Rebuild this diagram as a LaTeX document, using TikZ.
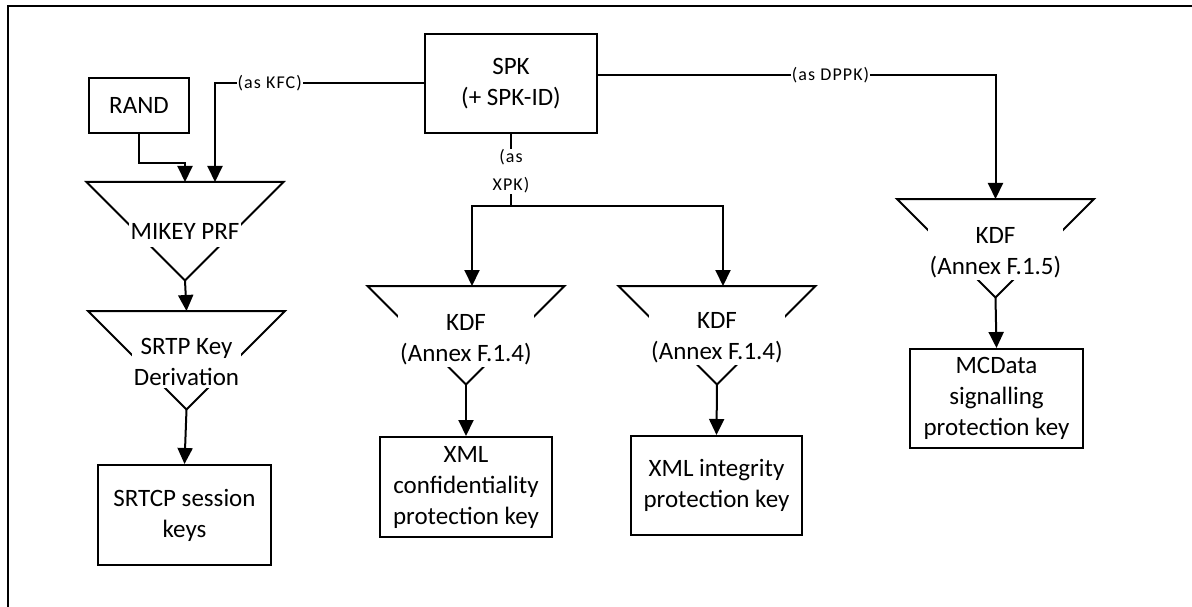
\documentclass[tikz,border=0pt]{standalone}
\usepackage{fontspec}
\setmainfont{Carlito}
\newfontfamily\lblfont[LetterSpace=6]{Carlito}
\usetikzlibrary{arrows.meta}
\begin{document}
\begin{tikzpicture}[x=1pt,y=-1pt,line width=2pt,
  box/.style={draw, rectangle, align=center, inner sep=0pt, font=\fontsize{25}{31}\selectfont},
  ftext/.style={fill=white, align=center, inner xsep=2pt, inner ysep=3pt, font=\fontsize{25}{31}\selectfont},
  lbl/.style={fill=white, inner xsep=1pt, inner ysep=1pt, align=center, font=\lblfont\fontsize{18}{28}\selectfont},
  arr/.style={-{Triangle[length=16pt,width=15pt]}},
  funnel/.pic={\draw (-98.5,0) -- (98.5,0) -- (0,98.5) -- cycle;
    \coordinate (-top) at (0,0); \coordinate (-apex) at (0,98.5);}
]
\useasboundingbox (0,0) rectangle (1192,607);
\draw[line width=2pt] (8,607) -- (8,6) -- (1192,6);

% boxes
\node[box, minimum width=100, minimum height=55] (rand) at (139,105.5) {RAND};
\node[box, minimum width=172, minimum height=99] (spk) at (511,83.5) {SPK\\(+ SPK-ID)};
\node[box, minimum width=173, minimum height=100] (srtcp) at (184.5,515) {SRTCP session\\keys};
\node[box, minimum width=172, minimum height=100] (xmlc) at (466,487) {XML\\confidentiality\\protection key};
\node[box, minimum width=171, minimum height=99] (xmli) at (716.5,485.5) {XML integrity\\protection key};
\node[box, minimum width=173, minimum height=99] (mcd) at (996.5,398.5) {MCData\\signalling\\protection key};

% funnels
\pic (mk) at (185,182) {funnel};
\pic (sr) at (186.5,311) {funnel};
\pic (kone) at (466,286) {funnel};
\pic (ktwo) at (717,286) {funnel};
\pic (kthree) at (995.5,199) {funnel};

\node[ftext, anchor=base, text depth=5pt] (mktext) at (185,239) {MIKEY PRF};
\node[ftext, anchor=base] (srtext) at (186.5,385) {SRTP Key\\Derivation};
\node[ftext, anchor=base] (konetext) at (466,361) {KDF\\(Annex F.1.4)};
\node[ftext, anchor=base] (ktwotext) at (717,359) {KDF\\(Annex F.1.4)};
\node[ftext, anchor=base] (kthreetext) at (995.5,274) {KDF\\(Annex F.1.5)};

% connectors
\coordinate (kfc) at (215,83.5);
\coordinate (dppk) at (995.5,75);
\coordinate (xpk) at (511,206);

\draw[arr] (rand.south) -- ++(0,29) -| (mk-top);
\draw[arr] (spk.west) -- node[lbl, pos=0.738] {(as KFC)} (kfc) -- (kfc |- mk-top);
\draw[arr] ([yshift=8.5pt]spk.east) -- node[lbl, pos=0.585] {(as DPPK)} (dppk) -- (kthree-top);
\draw[arr] (spk.south) -- node[lbl, pos=0.52] {(as\\XPK)} (xpk) -| ([xshift=6pt]kone-top);
\draw[arr] (xpk) -| ([xshift=6pt]ktwo-top);

\draw[arr] (mk-apex) -- (sr-top);
\draw[arr] (sr-apex) -- (srtcp.north);
\draw[arr] (kone-apex) -- (xmlc.north);
\draw[arr] (ktwo-apex) -- (xmli.north);
\draw[arr] (kthree-apex) -- (mcd.north);
\end{tikzpicture}
\end{document}
